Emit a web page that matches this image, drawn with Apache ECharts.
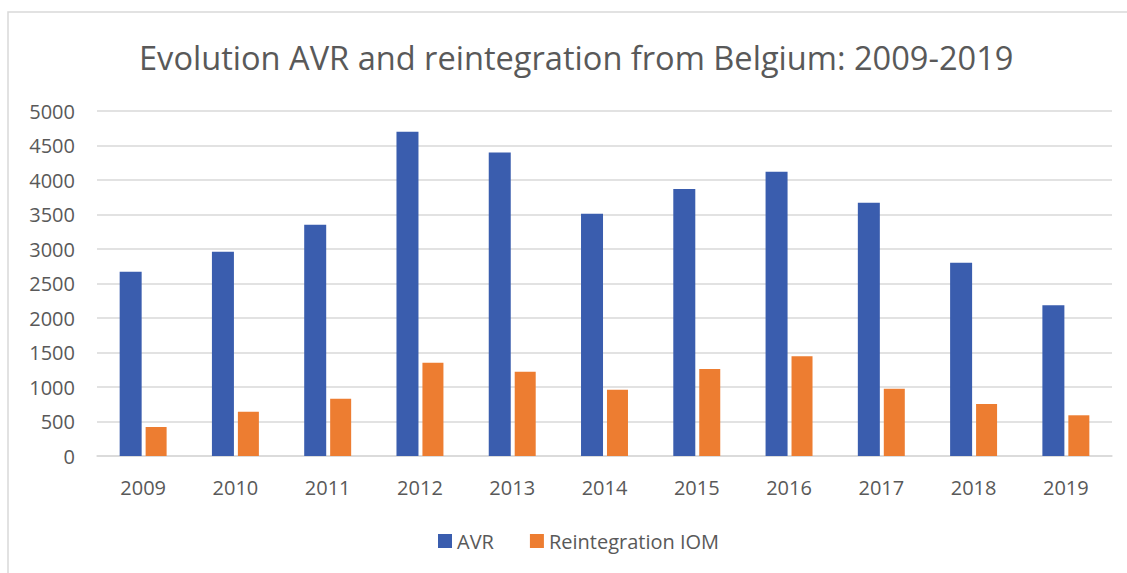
<!DOCTYPE html>
<html>
<head>
<meta charset="utf-8">
<script src="https://cdn.jsdelivr.net/npm/echarts@6/dist/echarts.min.js"></script>
<style>
  html, body { margin: 0; padding: 0; background: #fff; }
  #chart { width: 1127px; height: 573px; }
</style>
</head>
<body>
<div id="chart"></div>
<script>
// data
const years = ['2009', '2010', '2011', '2012', '2013', '2014', '2015', '2016', '2017', '2018', '2019'];
const avr = [2670, 2960, 3350, 4700, 4400, 3510, 3870, 4120, 3670, 2800, 2185];
const reintegration = [420, 640, 830, 1350, 1220, 960, 1260, 1445, 975, 755, 590];
const seriesNames = ['AVR', 'Reintegration IOM'];

const font = '"Open Sans", sans-serif';
const textGray = '#595959';

const chart = echarts.init(document.getElementById('chart'), null, { renderer: 'svg' });

chart.setOption({
  animation: false,
  color: ['#3A5DAE', '#ED7D31'],
  textStyle: { fontFamily: font, color: textGray },
  title: {
    text: 'Evolution AVR and reintegration from Belgium: 2009-2019',
    left: 134,
    top: 36,
    textStyle: { fontFamily: font, fontSize: 32.6, fontWeight: 'normal', color: textGray }
  },
  legend: {
    data: seriesNames,
    bottom: 17,
    left: 433,
    icon: 'rect',
    itemWidth: 14,
    itemHeight: 14,
    itemGap: 36,
    textStyle: { fontFamily: font, fontSize: 20, color: textGray }
  },
  grid: { left: 97, right: 15, top: 111, bottom: 117 },
  xAxis: {
    type: 'category',
    data: years,
    axisTick: { show: false },
    axisLine: { lineStyle: { color: '#d9d9d9', width: 1.5 } },
    axisLabel: { fontFamily: font, fontSize: 20, color: textGray, margin: 21 }
  },
  yAxis: {
    type: 'value',
    min: 0,
    max: 5000,
    interval: 500,
    axisLine: { show: false },
    axisTick: { show: false },
    splitLine: { lineStyle: { color: '#d9d9d9', width: 1.5 } },
    axisLabel: {
      fontFamily: font, fontSize: 20, color: textGray, margin: 22,
      formatter: v => String(v)
    }
  },
  graphic: [{
    type: 'rect',
    shape: { x: 8, y: 12, width: 1140, height: 580 },
    style: { fill: 'none', stroke: '#d9d9d9', lineWidth: 1.5 },
    silent: true
  }],
  series: [
    {
      name: seriesNames[0],
      type: 'bar',
      data: avr,
      barWidth: 22,
      barGap: '18%'
    },
    {
      name: seriesNames[1],
      type: 'bar',
      data: reintegration,
      barWidth: 21,
      barGap: '18%'
    }
  ]
});
</script>
</body>
</html>
